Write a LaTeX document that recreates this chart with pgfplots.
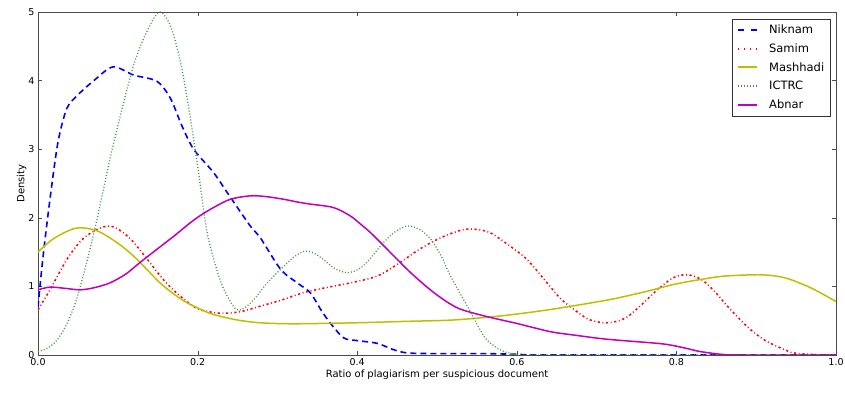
\documentclass[border=0pt]{standalone}
\usepackage{pgfplots}
\pgfplotsset{compat=1.18}
\usepackage{fontspec}
\setmainfont{DejaVu Sans}
\definecolor{cblue}{RGB}{0,0,255}
\definecolor{cred}{RGB}{255,0,0}
\definecolor{colive}{RGB}{191,191,0}
\definecolor{cgreen}{RGB}{70,150,70}
\definecolor{cmag}{RGB}{191,0,191}
\newcommand{\dr}[2]{\rule[-1pt]{#1}{2pt}\hspace*{#2}}
\newcommand{\legimg}[2]{\node[inner sep=0pt, anchor=west] at (0pt,0pt) {\hspace*{2pt}\textcolor{#1}{#2}\hspace*{10pt}};}
\pgfplotsset{
  niknam/.style={color=cblue, line width=1.6pt, dash pattern=on 6pt off 4pt,
    legend image code/.code={\legimg{cblue}{\dr{6pt}{7pt}\dr{6pt}{0pt}}}},
  samim/.style={color=cred, line width=1.5pt, dash pattern=on 2.2pt off 2.6pt on 0.9pt off 2.6pt,
    legend image code/.code={\legimg{cred}{\dr{1.6pt}{4.4pt}\dr{1.3pt}{4.7pt}\dr{1.6pt}{4.4pt}\dr{1.3pt}{0pt}}}},
  mashhadi/.style={color=colive, line width=1.5pt,
    legend image code/.code={\legimg{colive}{\dr{19pt}{0pt}}}},
  ictrc/.style={color=cgreen, line width=1.3pt, dash pattern=on 1pt off 2pt,
    legend image code/.code={\legimg{cgreen}{\dr{1.2pt}{1.8pt}\dr{1.2pt}{1.8pt}\dr{1.2pt}{1.8pt}\dr{1.2pt}{1.8pt}\dr{1.2pt}{1.8pt}\dr{1.2pt}{1.8pt}\dr{1.2pt}{0pt}}}},
  abnar/.style={color=cmag, line width=1.5pt,
    legend image code/.code={\legimg{cmag}{\dr{19pt}{0pt}}}},
}
\begin{document}
\begin{tikzpicture}
\begin{axis}[
  scale only axis,
  width=798pt, height=343pt,
  xmin=0, xmax=1, ymin=0, ymax=5,
  xtick={0,0.2,0.4,0.6,0.8,1.0},
  ytick={0,1,2,3,4,5},
  xticklabel style={/pgf/number format/.cd,fixed,fixed zerofill,precision=1},
  yticklabel style={/pgf/number format/.cd,fixed,precision=0},
  /pgf/number format/assume math mode=true,
  tick align=inside,
  tick pos=both,
  major tick length=4pt,
  tick style={black!70},
  axis line style={black!70, line width=0.8pt},
  ticklabel style={font=\fontsize{9.5}{11}\selectfont},
  xlabel={Ratio of plagiarism per suspicious document},
  ylabel={Density},
  label style={font=\fontsize{10}{12}\selectfont},
  xlabel style={yshift=3pt},
  ylabel style={yshift=-5pt},
  legend style={at={(0.993,0.98)}, anchor=north east, draw=black!80, font=\fontsize{11.5}{13}\selectfont, inner xsep=4pt, inner ysep=4pt, row sep=4.5pt},
  legend cell align=left,
]
\addplot[niknam, smooth, tension=0.5] coordinates {
(0,0.70) (0.006,1.4) (0.015,2.27) (0.025,3.1) (0.036,3.59) (0.049,3.78) (0.07,4.0) (0.094,4.2) (0.12,4.08) (0.149,3.99) (0.166,3.74) (0.18,3.35) (0.195,3.0) (0.22,2.66) (0.237,2.37) (0.266,1.88) (0.278,1.72) (0.304,1.25) (0.325,1.05) (0.341,0.91) (0.355,0.65) (0.366,0.47) (0.383,0.25) (0.4,0.21) (0.425,0.17) (0.445,0.08) (0.463,0.03) (0.5,0.02) (0.56,0.02) (0.6,0.01) (0.65,0) (1.0,0)};
\addlegendentry{Niknam}
\addplot[samim, smooth, tension=0.5] coordinates {
(0,0.66) (0.015,0.95) (0.036,1.39) (0.055,1.68) (0.074,1.83) (0.09,1.88) (0.105,1.8) (0.12,1.64) (0.14,1.35) (0.157,1.1) (0.174,0.9) (0.19,0.75) (0.203,0.66) (0.228,0.61) (0.253,0.63) (0.278,0.71) (0.305,0.8) (0.333,0.91) (0.36,0.98) (0.391,1.05) (0.425,1.15) (0.454,1.35) (0.475,1.52) (0.496,1.66) (0.515,1.76) (0.534,1.83) (0.55,1.83) (0.567,1.78) (0.59,1.6) (0.613,1.39) (0.638,1.05) (0.655,0.82) (0.672,0.66) (0.69,0.52) (0.709,0.47) (0.725,0.49) (0.739,0.56) (0.758,0.75) (0.776,0.95) (0.795,1.12) (0.81,1.17) (0.822,1.15) (0.835,1.07) (0.85,0.9) (0.864,0.71) (0.889,0.41) (0.905,0.26) (0.918,0.17) (0.935,0.08) (0.947,0.03) (0.97,0.01) (1.0,0)};
\addlegendentry{Samim}
\addplot[mashhadi, smooth, tension=0.5] coordinates {
(0,1.5) (0.02,1.7) (0.048,1.85) (0.074,1.81) (0.1,1.63) (0.12,1.44) (0.137,1.24) (0.153,1.05) (0.17,0.89) (0.187,0.76) (0.205,0.66) (0.22,0.59) (0.25,0.51) (0.278,0.47) (0.32,0.455) (0.4,0.47) (0.46,0.49) (0.52,0.51) (0.58,0.57) (0.64,0.66) (0.713,0.8) (0.76,0.92) (0.797,1.03) (0.83,1.1) (0.86,1.15) (0.902,1.17) (0.925,1.15) (0.943,1.1) (0.97,0.97) (1.0,0.78)};
\addlegendentry{Mashhadi}
\addplot[ictrc, smooth, tension=0.5] coordinates {
(0,0.05) (0.012,0.1) (0.024,0.22) (0.036,0.45) (0.048,0.8) (0.061,1.35) (0.074,1.98) (0.094,3.05) (0.12,4.23) (0.14,4.8) (0.153,5.0) (0.166,4.8) (0.177,4.35) (0.187,3.74) (0.2,2.76) (0.212,1.78) (0.228,1.1) (0.24,0.8) (0.249,0.66) (0.258,0.68) (0.27,0.8) (0.285,1.02) (0.304,1.25) (0.32,1.42) (0.333,1.51) (0.345,1.49) (0.358,1.39) (0.372,1.26) (0.387,1.2) (0.4,1.24) (0.412,1.35) (0.433,1.64) (0.448,1.8) (0.463,1.88) (0.478,1.83) (0.492,1.69) (0.505,1.45) (0.517,1.15) (0.538,0.71) (0.559,0.27) (0.572,0.13) (0.584,0.05) (0.6,0.01) (0.62,0) (1.0,0)};
\addlegendentry{ICTRC}
\addplot[abnar, smooth, tension=0.5] coordinates {
(0,0.95) (0.015,0.99) (0.035,0.97) (0.053,0.95) (0.07,0.98) (0.09,1.05) (0.11,1.18) (0.128,1.35) (0.15,1.55) (0.17,1.73) (0.19,1.92) (0.203,2.03) (0.22,2.15) (0.241,2.27) (0.266,2.32) (0.285,2.31) (0.308,2.27) (0.325,2.23) (0.341,2.2) (0.37,2.15) (0.391,2.03) (0.405,1.9) (0.417,1.78) (0.442,1.49) (0.467,1.2) (0.496,0.91) (0.525,0.69) (0.559,0.57) (0.6,0.46) (0.642,0.34) (0.672,0.29) (0.713,0.23) (0.776,0.17) (0.795,0.14) (0.815,0.09) (0.83,0.05) (0.856,0.01) (0.88,0) (1.0,0)};
\addlegendentry{Abnar}
\end{axis}
\pgfresetboundingbox
\path (current axis.south west) ++(-38pt,-40pt) coordinate (bl);
\path (current axis.north east) ++(9pt,12pt) coordinate (tr);
\path[use as bounding box] (bl) rectangle (tr);
\end{tikzpicture}
\end{document}
